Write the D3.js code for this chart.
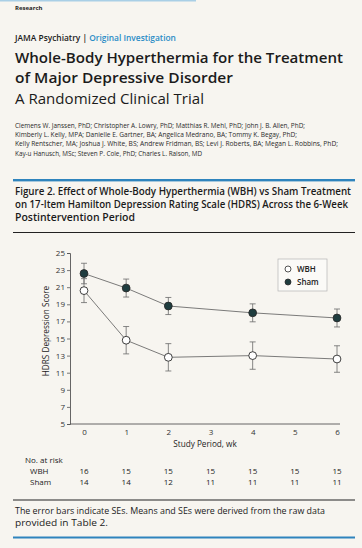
<!DOCTYPE html>
<html>
<head>
<meta charset="utf-8">
<script src="https://cdn.jsdelivr.net/npm/d3@7"></script>
<style>
  html, body { margin: 0; padding: 0; background: #f7f5f0; }
  svg { display: block; font-family: "Open Sans", "Noto Sans", sans-serif; }
</style>
</head>
<body>
<svg id="page" width="362" height="548"></svg>
<script>
// chart values
const weeks = [0, 1, 2, 4, 6];
const wbhMean = [20.6, 14.8, 12.8, 13.0, 12.6];
const wbhSE = [1.4, 1.6, 1.6, 1.6, 1.55];
const shamMean = [22.6, 20.9, 18.8, 18.0, 17.4];
const shamSE = [1.2, 1.05, 1.0, 1.05, 1.05];
const yTicks = [5, 7, 9, 11, 13, 15, 17, 19, 21, 23, 25];
const xTicks = [0, 1, 2, 3, 4, 5, 6];
const riskWeeks = [0, 1, 2, 3, 4, 5, 6];
const riskWBH = [16, 15, 15, 15, 15, 15, 15];
const riskSham = [14, 14, 12, 11, 11, 11, 11];

const titleLines = [
    "Whole-Body Hyperthermia for the Treatment",
    "of Major Depressive Disorder"
];
const subtitle = "A Randomized Clinical Trial";
const authorLines = [
    "Clemens W. Janssen, PhD; Christopher A. Lowry, PhD; Matthias R. Mehl, PhD; John J. B. Allen, PhD;",
    "Kimberly L. Kelly, MPA; Danielle E. Gartner, BA; Angelica Medrano, BA; Tommy K. Begay, PhD;",
    "Kelly Rentscher, MA; Joshua J. White, BS; Andrew Fridman, BS; Levi J. Roberts, BA; Megan L. Robbins, PhD;",
    "Kay-u Hanusch, MSc; Steven P. Cole, PhD; Charles L. Raison, MD"
];
const captionLines = [
    "Figure 2. Effect of Whole-Body Hyperthermia (WBH) vs Sham Treatment",
    "on 17-Item Hamilton Depression Rating Scale (HDRS) Across the 6-Week",
    "Postintervention Period"
];
const footLines = [
    "The error bars indicate SEs. Means and SEs were derived from the raw data",
    "provided in Table 2."
];

const svg = d3.select("#page");
const ink = "#1b1b1b";
const blue = "#2f84bd";

// header strip
svg.append("rect").attr("x", 0).attr("y", 0).attr("width", 196).attr("height", 1.5)
    .attr("fill", "#a9cfe6");
svg.append("text").attr("x", 15).attr("y", 10)
    .attr("font-size", 6).attr("font-weight", 700).attr("fill", ink)
    .text("Research");

let jama = svg.append("text").attr("x", 15).attr("y", 41)
    .attr("font-size", 8.4).attr("font-weight", 600).attr("fill", ink);
jama.append("tspan").text("JAMA Psychiatry ");
jama.append("tspan").text("| ");
jama.append("tspan").attr("fill", "#2a8cc6").text("Original Investigation");

// title block
const titleWidths = [328, 218];
titleLines.forEach((t, i) => {
    svg.append("text").attr("x", 15).attr("y", 62.5 + i * 20.5)
        .attr("font-size", 15).attr("font-weight", 600).attr("fill", ink)
        .attr("textLength", titleWidths[i]).attr("lengthAdjust", "spacingAndGlyphs")
        .text(t);
});
svg.append("text").attr("x", 15).attr("y", 103.5)
    .attr("font-size", 14.5).attr("font-weight", 400).attr("fill", ink)
    .attr("textLength", 189).attr("lengthAdjust", "spacingAndGlyphs")
    .text(subtitle);

const authorWidths = [290, 282, 323, 187];
authorLines.forEach((t, i) => {
    svg.append("text").attr("x", 15).attr("y", 128 + i * 9.2)
        .attr("font-size", 6.2).attr("fill", "#2a2a2a")
        .attr("textLength", authorWidths[i]).attr("lengthAdjust", "spacingAndGlyphs")
        .text(t);
});

// figure caption block
svg.append("rect").attr("x", 13).attr("y", 179).attr("width", 342).attr("height", 2.4)
    .attr("fill", blue);
const capWidths = [336, 333, 120];
captionLines.forEach((t, i) => {
    svg.append("text").attr("x", 15).attr("y", 195 + i * 13.2)
        .attr("font-size", 10).attr("font-weight", 600).attr("fill", ink)
        .attr("textLength", capWidths[i]).attr("lengthAdjust", "spacingAndGlyphs")
        .text(t);
});
svg.append("rect").attr("x", 13).attr("y", 232).attr("width", 342).attr("height", 1)
    .attr("fill", "#222");

// chart
const x = d3.scaleLinear().domain([0, 6]).range([84, 337]);
const y = d3.scaleLinear().domain([5, 25]).range([424, 253]);

const yAxis = svg.append("g").attr("transform", "translate(70,0)")
    .call(d3.axisLeft(y).tickValues(yTicks).tickSize(3).tickPadding(2)
        .tickFormat(d3.format("d")));
const xAxis = svg.append("g").attr("transform", "translate(0,424)")
    .call(d3.axisBottom(x).tickValues(xTicks).tickSize(0).tickPadding(5)
        .tickFormat(d3.format("d")));
xAxis.select(".domain").attr("d", "M70,0H340");
[yAxis, xAxis].forEach(g => {
    g.selectAll(".domain").attr("stroke", "#555").attr("stroke-width", 0.9);
    g.selectAll(".tick line").attr("stroke", "#555").attr("stroke-width", 0.8);
    g.selectAll(".tick text").attr("font-size", 8).attr("fill", "#333")
        .attr("font-family", "'Open Sans', sans-serif");
});

svg.append("text").attr("transform", "translate(49,331) rotate(-90)")
    .attr("text-anchor", "middle").attr("font-size", 8.2).attr("fill", "#222")
    .text("HDRS Depression Score");
svg.append("text").attr("x", 205).attr("y", 447)
    .attr("text-anchor", "middle").attr("font-size", 8.2).attr("fill", "#222")
    .text("Study Period, wk");

const series = [
    {name: "WBH", mean: wbhMean, se: wbhSE, fill: "#ffffff"},
    {name: "Sham", mean: shamMean, se: shamSE, fill: "#1f3d3f"}
];

const line = d3.line().x((d, i) => x(weeks[i])).y(d => y(d));
series.forEach(s => {
    svg.append("path").datum(s.mean).attr("d", line)
        .attr("fill", "none").attr("stroke", "#5a5a5a").attr("stroke-width", 0.8);
});

series.forEach(s => {
    let g = svg.append("g").attr("stroke", "#6a6a6a").attr("stroke-width", 0.8);
    s.mean.forEach((m, i) => {
        let cx = x(weeks[i]);
        let lo = y(m - s.se[i]), hi = y(m + s.se[i]);
        g.append("line").attr("x1", cx).attr("x2", cx).attr("y1", lo).attr("y2", hi);
        g.append("line").attr("x1", cx - 3).attr("x2", cx + 3).attr("y1", lo).attr("y2", lo);
        g.append("line").attr("x1", cx - 3).attr("x2", cx + 3).attr("y1", hi).attr("y2", hi);
    });
});

series.forEach(s => {
    svg.append("g").selectAll("circle").data(s.mean).join("circle")
        .attr("cx", (d, i) => x(weeks[i])).attr("cy", d => y(d)).attr("r", 3.9)
        .attr("fill", s.fill).attr("stroke", "#2a2a2a").attr("stroke-width", 0.9);
});

// legend
const legend = svg.append("g").attr("transform", "translate(278,259)");
legend.append("rect").attr("width", 49).attr("height", 32)
    .attr("fill", "#fbfaf7").attr("stroke", "#b5b5b5").attr("stroke-width", 0.7);
series.forEach((s, i) => {
    legend.append("circle").attr("cx", 10).attr("cy", 10 + i * 13).attr("r", 3)
        .attr("fill", s.fill).attr("stroke", "#2a2a2a").attr("stroke-width", 0.8);
    legend.append("text").attr("x", 19).attr("y", 13 + i * 13)
        .attr("font-size", 8).attr("font-weight", 600).attr("fill", "#222").text(s.name);
});

// number at risk
svg.append("text").attr("x", 25).attr("y", 463)
    .attr("font-size", 8).attr("fill", "#222").text("No. at risk");
[["WBH", riskWBH, 474], ["Sham", riskSham, 485]].forEach(([lab, vals, yy]) => {
    svg.append("text").attr("x", 30).attr("y", yy)
        .attr("font-size", 8).attr("fill", "#222").text(lab);
    svg.append("g").selectAll("text").data(vals).join("text")
        .attr("x", (d, i) => x(riskWeeks[i])).attr("y", yy)
        .attr("text-anchor", "middle").attr("font-size", 8).attr("fill", "#222")
        .text(d => d);
});

// footnote
svg.append("rect").attr("x", 13).attr("y", 499.5).attr("width", 342).attr("height", 1)
    .attr("fill", "#222");
const footWidths = [310, 93];
footLines.forEach((t, i) => {
    svg.append("text").attr("x", 15).attr("y", 514 + i * 12)
        .attr("font-size", 8.4).attr("fill", "#222")
        .attr("textLength", footWidths[i]).attr("lengthAdjust", "spacingAndGlyphs")
        .text(t);
});
svg.append("rect").attr("x", 13).attr("y", 536.5).attr("width", 342).attr("height", 2)
    .attr("fill", blue);
</script>
</body>
</html>
